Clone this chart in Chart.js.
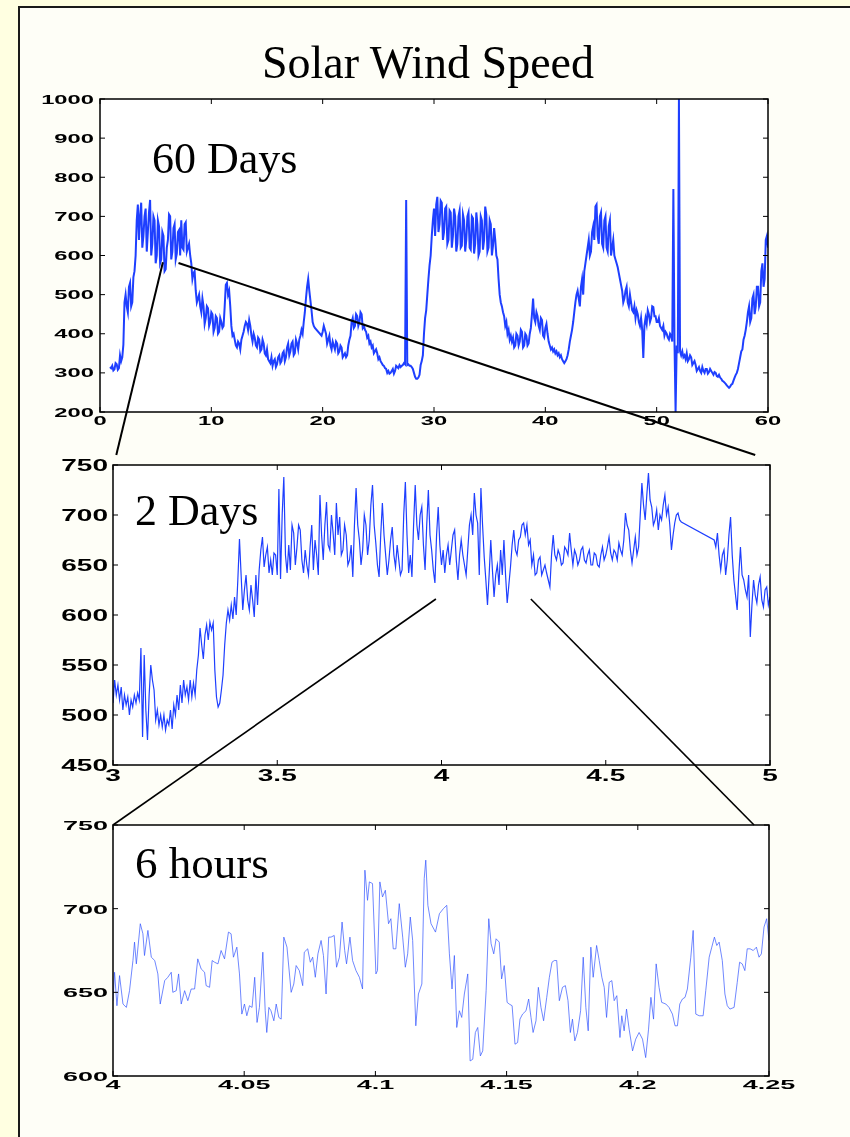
<!DOCTYPE html>
<html>
<head>
<meta charset="utf-8">
<script src="https://cdn.jsdelivr.net/npm/chart.js@4.4.1/dist/chart.umd.min.js"></script>
<style>
  html, body { margin: 0; width: 850px; height: 1137px; overflow: hidden; background: #FFFFE1; }
  #panel { position: absolute; left: 18px; top: 6px; width: 900px; height: 1200px;
           background: #FEFEF7; border-left: 2px solid #1a1a1a; border-top: 2px solid #1a1a1a; }
  canvas { position: absolute; }
  #overlay { position: absolute; left: 0; top: 0; pointer-events: none; }
  .serif { font-family: "Liberation Serif", "Times New Roman", serif; fill: #000; }
</style>
</head>
<body>
<div id="panel"></div>
<canvas id="c60" width="790" height="360" style="left:30px;top:85px"></canvas>
<canvas id="c2" width="800" height="345" style="left:30px;top:450px"></canvas>
<canvas id="c6" width="800" height="300" style="left:30px;top:810px"></canvas>
<svg id="overlay" width="850" height="1137">
  <text class="serif" x="262" y="78" font-size="46">Solar Wind Speed</text>
  <text class="serif" x="152" y="173" font-size="44">60 Days</text>
  <text class="serif" x="135" y="525" font-size="44">2 Days</text>
  <text class="serif" x="135" y="878" font-size="45">6 hours</text>
</svg>
<script>
// ---- 60 days: one value every 0.1 day from day 0.1 (one row = one day), null = no data ----
const start60 = 0.1, step60 = 0.1;
const speed60 = [
  null, null, null, null, null, null, null, null, 315, 312,
  318, 306, 309, 325, 322, 308, 312, 345, 330, 340,
  372, 480, 500, 470, 455, 520, 530, 470, 480, 545,
  560, 600, 690, 730, 640, 700, 735, 620, 650, 700,
  720, 610, 660, 710, 742, 600, 630, 700, 690, 580,
  600, 690, 675, 580, 590, 660, 650, 560, 565, 620,
  640, 705, 700, 590, 610, 670, 680, 590, 605, 660,
  665, 600, 690, 620, 615, 680, 685, 610, 620, 630,
  600, 580, 540, 555, 560, 510, 480, 490, 500, 470,
  455, 490, 470, 425, 440, 470, 465, 420, 430, 455,
  450, 405, 415, 445, 440, 400, 405, 440, 430, 415,
  420, 470, 525, 530, 500, 510, 470, 420, 395, 400,
  385, 370, 365, 380, 375, 360, 385, 395, 405, 420,
  430, 425, 410, 435, 420, 395, 380, 400, 390, 370,
  365, 390, 385, 355, 360, 385, 375, 350, 345, 360,
  335, 330, 325, 340, 318, 330, 335, 315, 322, 340,
  345, 325, 330, 350, 355, 330, 340, 365, 375, 345,
  355, 375, 380, 345, 350, 385, 375, 360, 385, 395,
  410, 400, 430, 455, 490, 520, 540, 510, 485, 460,
  430, 420, 415, null, null, null, null, null, 395, 405,
  420, 410, 400, 375, 385, 395, 370, 360, 380, 370,
  360, 380, 375, 350, 355, 370, 365, 340, 345, 350,
  340, 345, 370, 385, 395, 430, 440, 415, 420, 450,
  445, 420, 430, 455, 450, 415, 420, 410, 405, 390,
  395, 375, 380, 365, 370, 350, 355, 360, 350, 335,
  340, 330, 325, 320, 318, 312, 310, 300, 305, 298,
  300, 305, 310, 298, 305, 318, 315, 312, 320, 315,
  318, 320, 325, 322, 742, 320, 322, 318, 318, 315,
  310, 300, 290, 285, 285, 288, 295, 320, 330, 345,
  400, 440, 460, 500, 540, 575, 600, 650, 690, 720,
  650, 730, 750, 660, 680, 740, 735, 640, 660, 720,
  725, 630, 640, 715, 710, 620, 650, 720, 700, 610,
  630, 700, 715, 620, 625, 705, 690, 610, 640, 700,
  710, 620, 615, 700, 695, 605, 630, 710, 680, 600,
  610, 700, 690, 615, 640, 725, 705, 610, 620, 690,
  680, 600, 625, 670, 640, 600, 590, 540, 500, 480,
  470, 455, 445, 420, 430, 400, 410, 385, 395, 380,
  390, 365, 370, 400, 395, 370, 380, 410, 405, 365,
  370, 400, 395, 370, 375, 400, 415, 450, 490, 440,
  430, 455, 445, 420, 410, 440, 435, 395, 390, 415,
  425, 400, 380, 370, 360, 365, 355, 360, 350, 355,
  345, 350, 340, 345, 335, 330, 325, 330, 335, 345,
  360, 380, 395, 410, 430, 455, 480, 500, 510, 490,
  470, 520, 540, 500, 560, 580, 600, 620, 640, 600,
  610, 660, 675, 640, 725, 730, 650, 630, 700, 710,
  630, 620, 690, 700, 620, 610, 675, 690, 600, 620,
  640, 600, 590, 580, 570, 555, 540, 525, 510, 480,
  490, 510, 520, 480, 470, 500, 480, 460, 455, 470,
  440, 460, 450, 430, 420, 440, 410, 338, 420, 440,
  425, 460, 450, 430, 440, 470, 468, 445, 445, 430,
  430, 440, 420, 415, 410, 420, 395, 405, 400, 390,
  385, 400, 395, 380, 770, 380, 200, 370, 350, 1000,
  355, 345, 355, 340, 345, 335, 350, 330, 335, 345,
  340, 320, 325, 330, 320, 305, 310, 315, 305, 300,
  315, 305, 300, 310, 310, 298, 302, 310, 305, 300,
  295, 302, 300, 292, 290, 295, 288, 285, 280, 278,
  275, 272, 268, 265, 262, 265, 270, 272, 280, 288,
  295, 300, 310, 325, 340, 355, 360, 385, 395, 410,
  430, 455, 470, 430, 440, 490, 500, 450, 470, 520,
  520, 470, 480, 560, 580, 520, 540, 640, 650, 620
];
const ticks60X = [0, 10, 20, 30, 40, 50, 60];
const ticks60Y = [200, 300, 400, 500, 600, 700, 800, 900, 1000];

// ---- 2 days: one value every 0.005 day from day 3.000 (one row = 0.1 day), null = data gap ----
const start2 = 3.0, step2 = 0.005;
const speed2 = [
  512, 535, 520, 530, 515, 528, 505, 520, 510, 518, 500, 515, 508, 520, 512, 522, 515, 567, 478, 560,
  505, 475, 520, 550, 535, 525, 495, 505, 490, 500, 488, 500, 485, 495, 490, 505, 486, 510, 500, 520,
  505, 530, 512, 535, 520, 528, 515, 535, 518, 532, 520, 545, 560, 587, 570, 556, 580, 590, 575, 593,
  585, 592, 545, 518, 508, 512, 525, 540, 570, 592, 605, 595, 610, 596, 618, 600, 635, 676, 640, 605,
  625, 640, 615, 605, 630, 615, 598, 640, 610, 645, 665, 678, 648, 660, 668, 642, 655, 640, 662, 660,
  640, 726, 636, 700, 738, 660, 642, 670, 645, 690, 682, 650, 668, 690, 685, 655, 642, 665, 650, 640,
  668, 690, 645, 675, 660, 640, 720, 680, 655, 690, 713, 670, 665, 700, 682, 660, 712, 680, 698, 660,
  665, 690, 680, 650, 655, 670, 638, 690, 727, 690, 675, 650, 665, 700, 690, 660, 675, 710, 730, 690,
  672, 650, 638, 680, 712, 680, 660, 640, 655, 675, 688, 660, 648, 670, 655, 640, 645, 700, 733, 680,
  642, 660, 638, 690, 730, 690, 675, 700, 708, 670, 645, 690, 725, 680, 665, 645, 632, 680, 708, 670,
  650, 665, 642, 660, 670, 650, 665, 680, 685, 655, 635, 660, 675, 660, 650, 640, 665, 690, 700, 680,
  722, 700, 692, 640, 727, 690, 658, 635, 610, 640, 675, 645, 618, 640, 650, 630, 665, 640, 675, 640,
  612, 630, 648, 670, 685, 665, 660, 675, 678, 690, 692, 680, 690, 670, 675, 650, 660, 640, 642, 655,
  658, 640, 645, 650, 642, 635, 628, 660, 680, 660, 655, 665, 660, 650, 652, 668, 665, 660, 682, 665,
  650, 665, 660, 650, 655, 665, 668, 655, 652, 660, 665, 650, 650, 662, 660, 650, 648, 660, 668, 655,
  660, 668, 678, 662, 655, 665, 662, 655, 672, 665, 660, 675, 702, 690, 685, 665, 652, 665, 678, 660,
  668, 700, 732, 710, 695, 720, 742, 715, 708, 690, 695, 705, 685, 700, 695, 710, 720, 700, 708, 690,
  665, 680, 692, 700, 702, 695, 693, null, null, null, null, null, null, null, null, null, null, null, null, null,
  null, null, null, null, null, null, 675, 668, 682, 660, 645, 660, 665, 640, 655, 680, 698, 660, 635, 620,
  605, 640, 668, 640, 635, 625, 618, 640, 578, 610, 635, 620, 612, 630, 638, 615, 608, 625, 628, 610,
  618
];
const ticks2X = [3, 3.5, 4, 4.5, 5];
const ticks2Y = [450, 500, 550, 600, 650, 700, 750];

// ---- 6 hours: [day, speed] ----
const speed6 = [
  [4.0000,645],[4.0006,662],[4.0015,642],[4.0025,660],[4.0038,643],[4.0051,641],[4.0063,651],[4.0076,669],
  [4.0082,680],[4.0089,667],[4.0104,691],[4.0114,685],[4.0120,672],[4.0133,687],[4.0146,671],[4.0159,669],
  [4.0171,661],[4.0180,643],[4.0197,657],[4.0209,659],[4.0222,662],[4.0228,650],[4.0241,651],[4.0250,661],
  [4.0260,643],[4.0273,651],[4.0285,645],[4.0298,652],[4.0311,652],[4.0323,670],[4.0336,664],[4.0349,662],
  [4.0355,654],[4.0368,653],[4.0378,669],[4.0387,668],[4.0400,667],[4.0412,675],[4.0425,670],[4.0440,686],
  [4.0450,685],[4.0459,671],[4.0472,677],[4.0482,661],[4.0491,637],[4.0501,643],[4.0510,636],[4.0520,642],
  [4.0530,641],[4.0540,659],[4.0549,632],[4.0558,641],[4.0571,674],[4.0580,639],[4.0586,626],[4.0594,641],
  [4.0602,639],[4.0613,633],[4.0622,643],[4.0632,635],[4.0641,634],[4.0651,683],[4.0663,677],[4.0679,650],
  [4.0689,655],[4.0698,666],[4.0710,663],[4.0723,654],[4.0729,674],[4.0742,676],[4.0752,668],[4.0761,671],
  [4.0771,659],[4.0781,673],[4.0793,681],[4.0802,672],[4.0812,649],[4.0822,683],[4.0831,683],[4.0843,684],
  [4.0852,665],[4.0863,671],[4.0873,692],[4.0883,675],[4.0890,667],[4.0903,683],[4.0913,669],[4.0926,663],
  [4.0939,659],[4.0951,652],[4.0960,723],[4.0970,705],[4.0977,716],[4.0989,715],[4.1002,661],[4.1008,663],
  [4.1017,716],[4.1027,707],[4.1038,711],[4.1050,691],[4.1059,694],[4.1068,676],[4.1078,676],[4.1091,703],
  [4.1104,683],[4.1114,665],[4.1123,673],[4.1133,695],[4.1142,681],[4.1154,630],[4.1164,649],[4.1177,655],
  [4.1186,718],[4.1192,729],[4.1200,702],[4.1212,691],[4.1229,686],[4.1244,697],[4.1259,700],[4.1272,702],
  [4.1282,673],[4.1292,652],[4.1301,672],[4.1310,629],[4.1320,639],[4.1329,635],[4.1339,649],[4.1352,661],
  [4.1361,609],[4.1371,610],[4.1381,626],[4.1390,629],[4.1400,612],[4.1409,615],[4.1422,651],[4.1432,694],
  [4.1441,679],[4.1451,673],[4.1460,682],[4.1472,680],[4.1481,658],[4.1491,666],[4.1502,644],[4.1510,643],
  [4.1521,642],[4.1532,619],[4.1542,620],[4.1551,634],[4.1561,637],[4.1574,639],[4.1584,646],[4.1593,635],
  [4.1601,626],[4.1612,633],[4.1621,653],[4.1631,641],[4.1641,633],[4.1653,647],[4.1663,659],[4.1673,668],
  [4.1682,669],[4.1691,669],[4.1701,645],[4.1713,653],[4.1724,654],[4.1734,645],[4.1743,626],[4.1751,634],
  [4.1760,621],[4.1770,626],[4.1782,639],[4.1792,671],[4.1802,641],[4.1811,627],[4.1821,677],[4.1830,659],
  [4.1843,678],[4.1853,669],[4.1863,659],[4.1872,653],[4.1881,635],[4.1891,656],[4.1901,657],[4.1910,645],
  [4.1920,648],[4.1932,623],[4.1939,636],[4.1948,627],[4.1957,640],[4.1967,628],[4.1980,615],[4.1992,622],
  [4.2005,626],[4.2018,622],[4.2030,611],[4.2041,628],[4.2050,647],[4.2060,634],[4.2070,667],[4.2081,653],
  [4.2091,644],[4.2107,643],[4.2119,641],[4.2132,637],[4.2142,630],[4.2151,630],[4.2160,643],[4.2170,646],
  [4.2180,647],[4.2189,652],[4.2202,671],[4.2211,687],[4.2221,637],[4.2234,636],[4.2249,636],[4.2259,651],
  [4.2272,671],[4.2282,677],[4.2292,683],[4.2301,678],[4.2310,680],[4.2322,669],[4.2332,649],[4.2341,642],
  [4.2351,640],[4.2367,641],[4.2379,656],[4.2388,668],[4.2398,667],[4.2408,663],[4.2417,676],[4.2428,676],
  [4.2440,675],[4.2452,677],[4.2462,671],[4.2471,673],[4.2481,689],[4.2491,694],[4.2500,681]
];
const ticks6X = [4, 4.05, 4.1, 4.15, 4.2, 4.25];
const ticks6Y = [600, 650, 700, 750];

// zoom connector lines: [chart, x, y] in data units
const zoomLinks = [
  { from: ['c60', 5.65, 583], to: ['c2', 3.01, 760], width: 2 },
  { from: ['c60', 7.05, 581], to: ['c2', 4.955, 760], width: 2 },
  { from: ['c2', 3.983, 616], to: ['c6', 4.0, 750], width: 1.6 },
  { from: ['c2', 4.272, 616], to: ['c6', 4.2443, 750], width: 1.6 }
];

const BLUE = '#1e3fff';

// Matlab-like box: white plot area, frame, inward ticks, wide bold tick labels
function boxAxes(o) {
  return {
    id: 'boxAxes',
    beforeDraw(chart) {
      const { ctx, chartArea: a } = chart;
      ctx.save();
      ctx.fillStyle = '#fff';
      ctx.fillRect(a.left, a.top, a.right - a.left, a.bottom - a.top);
      ctx.restore();
    },
    afterDraw(chart) {
      const { ctx, chartArea: a, scales: { x, y } } = chart;
      ctx.save();
      ctx.strokeStyle = '#000';
      ctx.lineWidth = 1;
      ctx.beginPath();
      x.ticks.forEach(t => {
        const px = x.getPixelForValue(t.value);
        ctx.moveTo(px, a.top); ctx.lineTo(px, a.top + o.tick);
        ctx.moveTo(px, a.bottom); ctx.lineTo(px, a.bottom - o.tick);
      });
      y.ticks.forEach(t => {
        const py = y.getPixelForValue(t.value);
        ctx.moveTo(a.left, py); ctx.lineTo(a.left + o.tick, py);
        ctx.moveTo(a.right, py); ctx.lineTo(a.right - o.tick, py);
      });
      ctx.stroke();
      ctx.lineWidth = o.frame;
      ctx.strokeRect(a.left, a.top, a.right - a.left, a.bottom - a.top);

      ctx.fillStyle = '#000';
      ctx.font = 'bold ' + o.size + 'px "Liberation Sans", Arial, sans-serif';
      ctx.textBaseline = 'alphabetic';
      ctx.textAlign = 'center';
      x.ticks.forEach(t => {
        ctx.save();
        ctx.translate(x.getPixelForValue(t.value), a.bottom + o.xBase);
        ctx.scale(o.sx, 1);
        ctx.fillText(String(t.value), 0, 0);
        ctx.restore();
      });
      ctx.textAlign = 'right';
      y.ticks.forEach(t => {
        ctx.save();
        ctx.translate(a.left - o.yGap, y.getPixelForValue(t.value) + o.cap / 2);
        ctx.scale(o.sx, 1);
        ctx.fillText(String(t.value), 0, 0);
        ctx.restore();
      });
      ctx.restore();
    }
  };
}

function makeChart(id, points, lineWidth, color, xr, yr, box, pad, yWidth, xHeight) {
  return new Chart(document.getElementById(id), {
    type: 'line',
    data: {
      datasets: [{
        data: points,
        borderColor: color,
        borderWidth: lineWidth,
        pointRadius: 0,
        tension: 0,
        spanGaps: true,
        segment: {
          // spans over missing data are drawn as a thin line
          borderWidth: c => (c.p1DataIndex - c.p0DataIndex > 1 ? 0.6 : lineWidth)
        }
      }]
    },
    options: {
      responsive: false,
      animation: false,
      devicePixelRatio: 1,
      layout: { padding: pad },
      plugins: { legend: { display: false }, tooltip: { enabled: false } },
      scales: {
        x: {
          type: 'linear', min: xr.ticks[0], max: xr.ticks[xr.ticks.length - 1],
          afterBuildTicks: s => { s.ticks = xr.ticks.map(v => ({ value: v })); },
          afterFit: s => { s.height = xHeight; },
          ticks: { display: false }, grid: { display: false }, border: { display: false }
        },
        y: {
          min: yr.ticks[0], max: yr.ticks[yr.ticks.length - 1],
          afterBuildTicks: s => { s.ticks = yr.ticks.map(v => ({ value: v })); },
          afterFit: s => { s.width = yWidth; },
          ticks: { display: false }, grid: { display: false }, border: { display: false }
        }
      }
    },
    plugins: [boxAxes(box)]
  });
}

const pts60 = speed60.map((v, i) => ({ x: +(start60 + i * step60).toFixed(2), y: v }));
const pts2 = speed2.map((v, i) => ({ x: +(start2 + i * step2).toFixed(3), y: v }));
const pts6 = speed6.map(p => ({ x: p[0], y: p[1] }));

const charts = {
  c60: makeChart('c60', pts60, 2, BLUE, { ticks: ticks60X }, { ticks: ticks60Y },
    { tick: 5, frame: 1.5, size: 12.5, cap: 9, sx: 1.9, xBase: 13, yGap: 6 },
    { top: 14, right: 52, bottom: 0, left: 0 }, 70, 33),
  c2: makeChart('c2', pts2, 1.2, BLUE, { ticks: ticks2X }, { ticks: ticks2Y },
    { tick: 5, frame: 1.5, size: 16, cap: 11.5, sx: 1.75, xBase: 16, yGap: 5 },
    { top: 15, right: 60, bottom: 0, left: 0 }, 83, 30),
  c6: makeChart('c6', pts6, 0.7, 'rgb(50,85,255)', { ticks: ticks6X }, { ticks: ticks6Y },
    { tick: 5, frame: 1.5, size: 13.5, cap: 9.7, sx: 2.0, xBase: 13, yGap: 5 },
    { top: 15, right: 61, bottom: 0, left: 0 }, 83, 34)
};

// connector lines drawn on the overlay, positioned through each chart's scales
const svg = document.getElementById('overlay');
function pagePoint(ref) {
  const ch = charts[ref[0]];
  const c = ch.canvas;
  return [c.offsetLeft + ch.scales.x.getPixelForValue(ref[1]),
          c.offsetTop + ch.scales.y.getPixelForValue(ref[2])];
}
zoomLinks.forEach(l => {
  const p = pagePoint(l.from), q = pagePoint(l.to);
  const ln = document.createElementNS('http://www.w3.org/2000/svg', 'line');
  ln.setAttribute('x1', p[0]); ln.setAttribute('y1', p[1]);
  ln.setAttribute('x2', q[0]); ln.setAttribute('y2', q[1]);
  ln.setAttribute('stroke', '#000');
  ln.setAttribute('stroke-width', l.width);
  svg.appendChild(ln);
});
</script>
</body>
</html>
